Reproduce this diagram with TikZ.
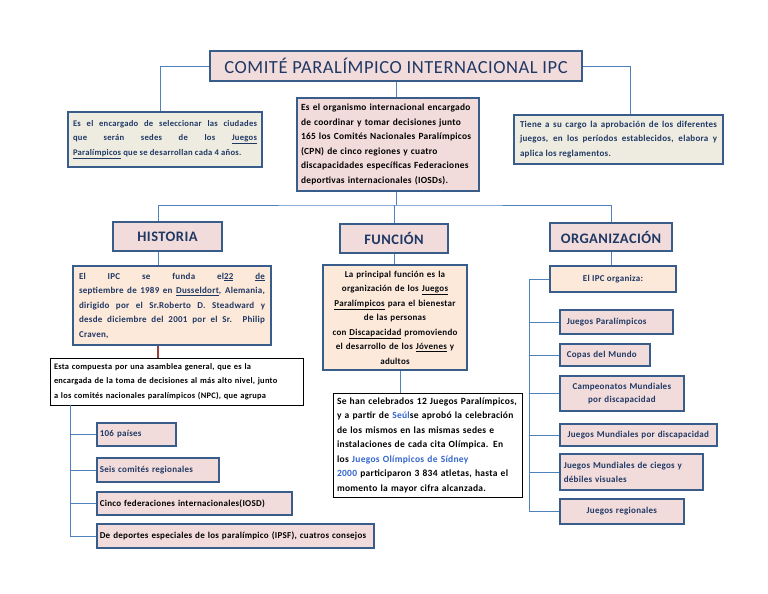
\documentclass[tikz,border=0pt]{standalone}
\usepackage{fontspec}
\setmainfont{Carlito}[LetterSpace=3]
\usepackage{xcolor}
\usepackage{tikz}
\definecolor{borde}{HTML}{385D8A}
\definecolor{linea}{HTML}{4F81BD}
\definecolor{azul}{HTML}{1F3864}
\definecolor{rosa}{HTML}{F2DCDB}
\definecolor{crema}{HTML}{EEECE1}
\definecolor{durazno}{HTML}{FDE9D9}
\definecolor{enlace}{HTML}{3366CC}
\definecolor{rojo}{HTML}{C0504D}
\newcommand{\subr}[1]{\underline{#1}}
\tikzset{
	letra/.style={font=\bfseries\fontsize{#1}{14.5}\selectfont},
	caja/.style={draw=borde,line width=1.6pt,inner sep=4pt,text=azul,letra=9},
	titulo/.style={caja,fill=rosa,font=\fontsize{18.5}{20}\selectfont},
	cabecera/.style={caja,fill=rosa,font=\bfseries\fontsize{14.5}{15}\selectfont},
	nota/.style={draw=black,line width=0.8pt,fill=white,text=black,inner sep=4pt,letra=9},
	item/.style={caja,fill=rosa,anchor=west,inner sep=2pt},
	rama/.style={draw=linea,line width=0.8pt}
}

\begin{document}
\begin{tikzpicture}[x=1pt,y=-1pt]
	\useasboundingbox (0,0) rectangle (768,594);
	% cabecera principal
	\node [titulo,minimum width=372,minimum height=30] (ipc) at (396,66)
		{COMITÉ PARALÍMPICO INTERNACIONAL IPC};
	\node [caja,fill=crema,letra=8.6,minimum width=194,minimum height=55,text width=184,align=justify] (sedes) at (165,139.5)
		{Es el encargado de seleccionar las ciudades\linebreak que serán sedes de los \subr{Juegos}\linebreak \subr{Paralímpicos} que se desarrollan cada 4 años.};
	\node [caja,fill=rosa,text=black,letra=9.4,minimum width=182,minimum height=93,text width=174,inner sep=3pt,align=left] (organismo) at (388,144.5)
		{\hyphenpenalty=10000 Es el organismo internacional encargado\\de coordinar y tomar decisiones junto\\165 los Comités Nacionales Paralímpicos\\(CPN) de cinco regiones y cuatro\\discapacidades específicas Federaciones\\deportivas internacionales (IOSDs).};
	\node [caja,fill=crema,minimum width=209,minimum height=49,text width=197,align=justify] (aprobacion) at (618.5,139.5)
		{Tiene a su cargo la aprobación de los diferentes\linebreak juegos, en los períodos establecidos, elabora y\linebreak aplica los reglamentos.};
	% las tres ramas
	\node [cabecera,minimum width=109,minimum height=29] (historia) at (167.5,236.5) {HISTORIA};
	\node [cabecera,minimum width=108,minimum height=29] (funcion) at (394,238.5) {FUNCIÓN};
	\node [cabecera,minimum width=122,minimum height=28] (organizacion) at (611,237) {ORGANIZACIÓN};
	\coordinate (bus) at (396,205);
	% historia
	\node [caja,fill=durazno,minimum width=198,minimum height=79,text width=186,align=justify] (fundacion) at (172,305.5)
		{El IPC se funda el\subr{22} \subr{de}\linebreak septiembre de 1989 en \subr{Dusseldort}, Alemania,\linebreak dirigido por el Sr.Roberto D. Steadward y\linebreak desde diciembre del 2001 por el Sr. Philip\linebreak Craven,};
	\node [nota,letra=8.4,minimum width=253,minimum height=47,text width=245,align=left] (asamblea) at (176.5,381.5)
		{Esta compuesta por una asamblea general, que es la\\encargada de la toma de decisiones al más alto nivel, junto\\a los comités nacionales paralímpicos (NPC), que agrupa};
	\node [item,minimum width=79,minimum height=23,text width=73,align=left] (paises) at (96,434.5) {106 países};
	\node [item,minimum width=122,minimum height=24,text width=116,align=left] (comites) at (96,470) {Seis comités regionales};
	\node [item,text=black,minimum width=195,minimum height=23,text width=189,align=left] (federaciones) at (96,503.5) {Cinco federaciones internacionales(IOSD)};
	\node [item,text=black,minimum width=277,minimum height=24,text width=271,align=left] (consejos) at (96,536) {De deportes especiales de los paralímpico (IPSF), cuatros consejos};
	\coordinate (ejehist) at (70,0);
	% funcion
	\node [caja,fill=durazno,text=black!85!azul,minimum width=144,minimum height=105,text width=136,align=center] (principal) at (395,317.5)
		{La principal función es la\\organización de los \subr{Juegos}\\\subr{Paralímpicos} para el bienestar\\de las personas\\con \subr{Discapacidad} promoviendo\\el desarrollo de los \subr{Jóvenes} y\\adultos};
	\node [nota,letra=9.5,minimum width=187,minimum height=104,text width=181,align=left] (celebrados) at (427.5,445)
		{Se han celebrados 12 Juegos Paralímpicos,\\y a partir de {\color{enlace}Seúl}se aprobó la celebración\\de los mismos en las mismas sedes e\\instalaciones de cada cita Olímpica. En\\los {\color{enlace}Juegos Olímpicos de Sídney}\\{\color{enlace}2000} participaron 3 834 atletas, hasta el\\momento la mayor cifra alcanzada.};
	% organizacion
	\node [caja,fill=durazno,minimum width=126,minimum height=26] (organiza) at (613,279) {El IPC organiza:};
	\node [item,minimum width=113,minimum height=24,text width=107,align=left] (paralimpicos) at (559,322) {\hspace{4pt}Juegos Paralímpicos};
	\node [item,minimum width=90,minimum height=22,text width=84,align=left] (copas) at (559,355) {\hspace{4pt}Copas del Mundo};
	\node [item,minimum width=124,minimum height=35,text width=118,align=center,font=\bfseries\fontsize{9}{13}\selectfont] (campeonatos) at (559,393.5) {Campeonatos Mundiales\\por discapacidad};
	\node [item,minimum width=157,minimum height=22,text width=153,align=center] (mundiales) at (559,435) {Juegos Mundiales por discapacidad};
	\node [item,minimum width=143,minimum height=36,text width=135,align=left,font=\bfseries\fontsize{9}{14}\selectfont] (ciegos) at (559,472) {Juegos Mundiales de ciegos y\\débiles visuales};
	\node [item,minimum width=124,minimum height=25,text width=118,align=center] (regionales) at (559,511.5) {Juegos regionales};
	\coordinate (ejeorg) at (529,0);

	% conectores
	\draw [rama] (ipc.west) -| ([xshift=-5pt]sedes.north);
	\draw [rama] (ipc.east) -| ([xshift=11.5pt]aprobacion.north);
	\draw [rama] (ipc.south) -- (ipc.south |- organismo.north);
	\draw [rama] (organismo.south -| ipc.south) -- (bus);
	\draw [rama] ([xshift=-9.5pt]historia.north) |- (bus) -| (organizacion.north);
	\draw [rama] (funcion.north |- bus) -- (funcion.north);
	\draw [rama] ([xshift=-9.5pt]historia.south) -- ([xshift=-9.5pt]historia.south |- fundacion.north);
	\draw [draw=rojo!80!black,line width=1.6pt] ([xshift=-9.5pt]historia.south |- fundacion.south) -- ([xshift=-9.5pt]historia.south |- asamblea.north);
	\draw [rama] (ejehist |- asamblea.south) -- (ejehist |- consejos.west);
	\foreach \n in {paises,comites,federaciones,consejos}
		\draw [rama] (ejehist |- \n.west) -- (\n.west);
	\draw [rama] (funcion.south) -- (funcion.south |- principal.north);
	\draw [rama] ([xshift=5pt]principal.south) -- ([xshift=5pt]principal.south |- celebrados.north);
	\draw [rama] (organizacion.south) -- (organizacion.south |- organiza.north);
	\draw [rama] (organiza.west) -- (ejeorg |- organiza.west) -- (ejeorg |- regionales.west);
	\foreach \n in {paralimpicos,copas,campeonatos,mundiales,ciegos,regionales}
		\draw [rama] (ejeorg |- \n.west) -- (\n.west);
\end{tikzpicture}
\end{document}
